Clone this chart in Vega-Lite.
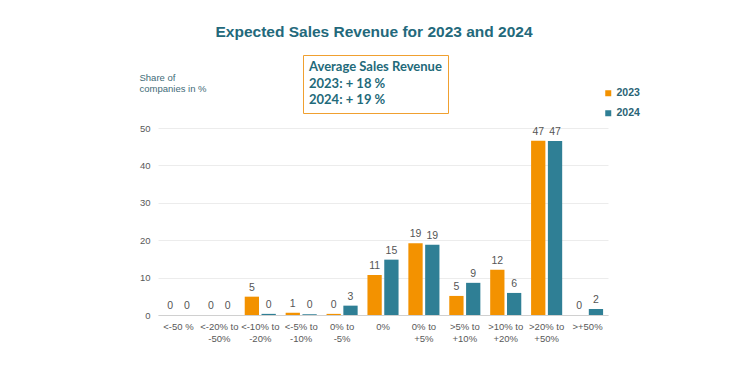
{
  "$schema": "https://vega.github.io/schema/vega-lite/v6.json",
  "width": 450,
  "height": 187,
  "autosize": {"type": "none"},
  "padding": {"left": 158, "top": 128, "right": 132, "bottom": 60},
  "background": "white",
  "title": {
    "text": "Expected Sales Revenue for 2023 and 2024",
    "font": "Liberation Sans",
    "fontSize": 15.5,
    "fontWeight": "bold",
    "color": "#23697b",
    "anchor": "middle",
    "frame": "group",
    "dx": -9,
    "offset": 14
  },
  "config": {
    "view": {"stroke": null},
    "font": "Liberation Sans"
  },
  "datasets": {
    "bars": [
      {"range": "<-50 %", "year": "2023", "share": 0, "label": "0"},
      {"range": "<-50 %", "year": "2024", "share": 0, "label": "0"},
      {"range": "<-20% to -50%", "year": "2023", "share": 0, "label": "0"},
      {"range": "<-20% to -50%", "year": "2024", "share": 0, "label": "0"},
      {"range": "<-10% to -20%", "year": "2023", "share": 4.9, "label": "5"},
      {"range": "<-10% to -20%", "year": "2024", "share": 0.3, "label": "0"},
      {"range": "<-5% to -10%", "year": "2023", "share": 0.6, "label": "1"},
      {"range": "<-5% to -10%", "year": "2024", "share": 0.2, "label": "0"},
      {"range": "0% to -5%", "year": "2023", "share": 0.3, "label": "0"},
      {"range": "0% to -5%", "year": "2024", "share": 2.5, "label": "3"},
      {"range": "0%", "year": "2023", "share": 10.7, "label": "11"},
      {"range": "0%", "year": "2024", "share": 14.8, "label": "15"},
      {"range": "0% to +5%", "year": "2023", "share": 19.2, "label": "19"},
      {"range": "0% to +5%", "year": "2024", "share": 18.8, "label": "19"},
      {"range": ">5% to +10%", "year": "2023", "share": 5.1, "label": "5"},
      {"range": ">5% to +10%", "year": "2024", "share": 8.6, "label": "9"},
      {"range": ">10% to +20%", "year": "2023", "share": 12.1, "label": "12"},
      {"range": ">10% to +20%", "year": "2024", "share": 5.9, "label": "6"},
      {"range": ">20% to +50%", "year": "2023", "share": 46.6, "label": "47"},
      {"range": ">20% to +50%", "year": "2024", "share": 46.5, "label": "47"},
      {"range": ">+50%", "year": "2023", "share": 0, "label": "0"},
      {"range": ">+50%", "year": "2024", "share": 1.6, "label": "2"}
    ],
    "avg": [
      {"note": "2023: + 18 %"},
      {"note": "2024: + 19 %"}
    ]
  },
  "layer": [
    {
      "data": {"name": "bars"},
      "mark": {"type": "bar"},
      "encoding": {
        "x": {
          "field": "range", "type": "nominal", "sort": null,
          "scale": {"paddingInner": 0.24, "paddingOuter": 0.12},
          "axis": {
            "title": null,
            "labelAngle": 0,
            "labelFontSize": 9.5,
            "labelColor": "#595959",
            "labelPadding": 6,
            "labelLineHeight": 12,
            "labelExpr": "indexof(datum.label,' to ')>0 ? [slice(datum.label,0,indexof(datum.label,' to ')+3), slice(datum.label,indexof(datum.label,' to ')+4)] : datum.label",
            "ticks": false,
            "domainColor": "#d0d0d0",
            "domainWidth": 1
          }
        },
        "xOffset": {"field": "year", "type": "nominal", "scale": {"paddingInner": 0.15}},
        "y": {
          "field": "share", "type": "quantitative",
          "scale": {"domain": [0, 50]},
          "axis": {
            "values": [0, 10, 20, 30, 40, 50],
            "labelOverlap": false,
            "title": ["Share of", "companies in %"],
            "titleAngle": 0,
            "titleAlign": "left",
            "titleBaseline": "top",
            "titleX": -19,
            "titleY": -56,
            "titleFont": "Liberation Sans",
            "titleFontSize": 9.5,
            "titleFontWeight": "normal",
            "titleColor": "#3f6b78",
            "titleLineHeight": 11,
            "labelFontSize": 9.5,
            "labelColor": "#595959",
            "labelPadding": 8,
            "ticks": false,
            "domain": false,
            "gridColor": "#ececec"
          }
        },
        "color": {
          "field": "year", "type": "nominal",
          "scale": {"domain": ["2023", "2024"], "range": ["#f39200", "#2f7f95"]},
          "legend": {
            "title": null,
            "orient": "none",
            "legendX": 445,
            "legendY": -40,
            "symbolType": "square",
            "symbolSize": 36,
            "labelFont": "Liberation Sans",
            "labelFontSize": 10.5,
            "labelFontWeight": "bold",
            "labelColor": "#2a6475",
            "labelOffset": 3,
            "rowPadding": 9
          }
        }
      }
    },
    {
      "data": {"name": "bars"},
      "mark": {"type": "text", "dy": -4, "baseline": "bottom", "fontSize": 10.5, "color": "#555555"},
      "encoding": {
        "x": {"field": "range", "type": "nominal", "sort": null},
        "xOffset": {"field": "year", "type": "nominal"},
        "y": {
          "field": "share", "type": "quantitative",
          "axis": {
            "values": [0, 10, 20, 30, 40, 50],
            "labelOverlap": false,
            "title": ["Share of", "companies in %"],
            "titleAngle": 0,
            "titleAlign": "left",
            "titleBaseline": "top",
            "titleX": -19,
            "titleY": -56,
            "titleFont": "Liberation Sans",
            "titleFontSize": 9.5,
            "titleFontWeight": "normal",
            "titleColor": "#3f6b78",
            "titleLineHeight": 11,
            "labelFontSize": 9.5,
            "labelColor": "#595959",
            "labelPadding": 8,
            "ticks": false,
            "domain": false,
            "gridColor": "#ececec"
          }
        },
        "text": {"field": "label"}
      }
    },
    {
      "data": {"name": "avg"},
      "mark": {"type": "point", "opacity": 0},
      "encoding": {
        "shape": {
          "field": "note", "type": "nominal",
          "legend": {
            "title": "Average Sales Revenue",
            "orient": "none",
            "legendX": 145,
            "legendY": -73,
            "padding": 6,
            "strokeColor": "#f0a030",
            "titleFont": "Lato",
            "titleFontSize": 13,
            "titleFontWeight": "bold",
            "titleColor": "#1f6a7a",
            "titlePadding": 3,
            "labelFont": "Lato",
            "labelFontSize": 13,
            "labelFontWeight": "bold",
            "labelColor": "#1f6a7a",
            "symbolSize": 0,
            "symbolOpacity": 0,
            "symbolStrokeWidth": 0,
            "labelOffset": -13,
            "rowPadding": 2,
            "encode": {"legend": {"update": {"strokeWidth": {"value": 1.5}}}}
          }
        }
      }
    }
  ]
}
